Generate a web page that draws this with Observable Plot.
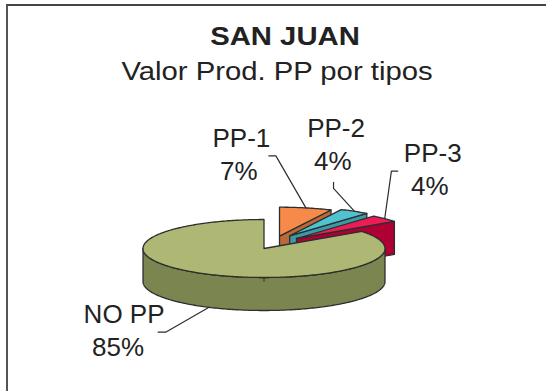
<!DOCTYPE html>
<html>
<head>
<meta charset="utf-8">
<script src="https://cdn.jsdelivr.net/npm/d3@7"></script>
<script src="https://cdn.jsdelivr.net/npm/@observablehq/plot@0.6"></script>
<style>
html,body{margin:0;padding:0;background:#fff;overflow:hidden}
#frame{position:absolute;left:6px;top:4px;width:540px;height:387px;border-top:2px solid #444;border-left:2px solid #555;box-sizing:border-box}
#head{position:absolute;left:0;top:0;width:546px;height:90px;font-family:"Liberation Sans",Arial,sans-serif;color:#222}
#head div{position:absolute;white-space:nowrap;font-size:25px;line-height:30px;transform:translateX(-50%) scaleX(1.17)}
#title{left:284.5px;top:21px;font-weight:bold}
#subtitle{left:276.5px;top:56px;transform:translateX(-50%) scaleX(1.17)!important}
#chart{position:absolute;left:0;top:90px}
</style>
</head>
<body>
<div id="frame"></div>
<div id="head"><div id="title">SAN JUAN</div><div id="subtitle">Valor Prod. PP por tipos</div></div>
<div id="chart"></div>
<script>
// Data
const categories = ["PP-1", "PP-2", "PP-3", "NO PP"];
const values = [7, 4, 4, 85];
const percentLabels = ["7%", "4%", "4%", "85%"];

// Colours
const topColors = ["#f58a4b", "#4fc3cf", "#ee1c55", "#aeb874"];
const wallColors = ["#b96a3a", "#3a9aa5", "#ae0035", "#7a8550"];
const edge = "#2e2e2e", ink = "#222";

// Pie layout (pixels in the page)
const cx = 263.5, cy = 248, rx = 121, ry = 29, depth = 33;
const explodeX = [15.5, 25.7, 32.5, 0], explodeY = [-12.3, -12.7, -10, 0];
const leadElbow = [[-30, -52], [-21, -23], [6.7, -47.5], [-43, 24.7]];
const leadEnd = [[-37, -52], [-21, -29], [13, -47.5], [-51, 24.7]];
const nameOffset = [[-64.5, -60.7], [-18.5, -74.8], [48, -56.5], [-85, 15.7]];
const pctOffset = [[-67, -28.4], [-21.8, -41.8], [45, -23.2], [-91, 49]];

const rad = Math.PI / 180, total = d3.sum(values);
const slices = [];
let acc = 0;
values.forEach((v, i) => { const a0 = acc; acc += v / total * 360; slices.push({i, a0, a1: acc}); });

const pt = (a, ox, oy, drop = 0) => ({x: cx + ox + rx * Math.sin(a * rad), y: cy + oy - ry * Math.cos(a * rad) + drop});
const arc = (a0, a1, ox, oy, drop = 0) => {
  const n = Math.max(2, Math.ceil(Math.abs(a1 - a0)));
  return d3.range(n + 1).map(k => pt(a0 + (a1 - a0) * k / n, ox, oy, drop));
};
const apex = (s, drop = 0) => ({x: cx + explodeX[s.i], y: cy + explodeY[s.i] + drop});
const topFace = s => { const p = apex(s); return [p, ...arc(s.a0, s.a1, explodeX[s.i], explodeY[s.i]), p]; };
const cutFace = s => {
  const e = pt(s.a1, explodeX[s.i], explodeY[s.i]);
  return [apex(s), e, {x: e.x, y: e.y + depth}, apex(s, depth), apex(s)];
};
const frontWall = s => {
  const lo = Math.max(s.a0, 90), hi = Math.min(s.a1, 270);
  const up = arc(lo, hi, explodeX[s.i], explodeY[s.i]);
  const down = arc(hi, lo, explodeX[s.i], explodeY[s.i], depth);
  return [...up, ...down, up[0]];
};
const face = (data, fill) => Plot.line(data, {x: "x", y: "y", fill, stroke: edge, strokeWidth: 1.3, curve: "linear", strokeLinejoin: "round"});

const marks = [];
slices.slice(0, 3).forEach(s => {
  marks.push(face(cutFace(s), wallColors[s.i]));
  marks.push(face(topFace(s), topColors[s.i]));
});
const main = slices[3];
marks.push(face(frontWall(main), wallColors[3]));
marks.push(face(topFace(main), topColors[3]));
const seam = pt(180, 0, 0);
marks.push(Plot.line([seam, {x: seam.x, y: seam.y + 4}], {x: "x", y: "y", stroke: edge, strokeWidth: 1}));

// Leader lines and labels, anchored at each slice's mid-angle on the visible rim
const anchors = slices.map(s => {
  const mid = (s.a0 + s.a1) / 2;
  return pt(mid, explodeX[s.i], explodeY[s.i], mid > 90 && mid < 270 ? depth : 0);
});
slices.forEach(s => {
  const A = anchors[s.i];
  const pts = [A, {x: A.x + leadElbow[s.i][0], y: A.y + leadElbow[s.i][1]}, {x: A.x + leadEnd[s.i][0], y: A.y + leadEnd[s.i][1]}];
  marks.push(Plot.line(pts, {x: "x", y: "y", stroke: edge, strokeWidth: 1.2}));
});
const labels = slices.flatMap(s => {
  const A = anchors[s.i];
  return [
    {x: A.x + nameOffset[s.i][0], y: A.y + nameOffset[s.i][1] - 8.3, text: categories[s.i]},
    {x: A.x + pctOffset[s.i][0], y: A.y + pctOffset[s.i][1] - 8.3, text: percentLabels[s.i]}
  ];
});
marks.push(Plot.text(labels, {x: "x", y: "y", text: "text", fontSize: 26, fill: ink, fontFamily: "Liberation Sans", textAnchor: "middle"}));

const chart = Plot.plot({
  width: 546, height: 301,
  margin: 0,
  x: {domain: [0, 546], range: [0, 546], axis: null},
  y: {domain: [90, 391], range: [0, 301], axis: null},
  style: {background: "transparent", overflow: "visible"},
  marks
});
document.getElementById("chart").appendChild(chart);
</script>
</body>
</html>
